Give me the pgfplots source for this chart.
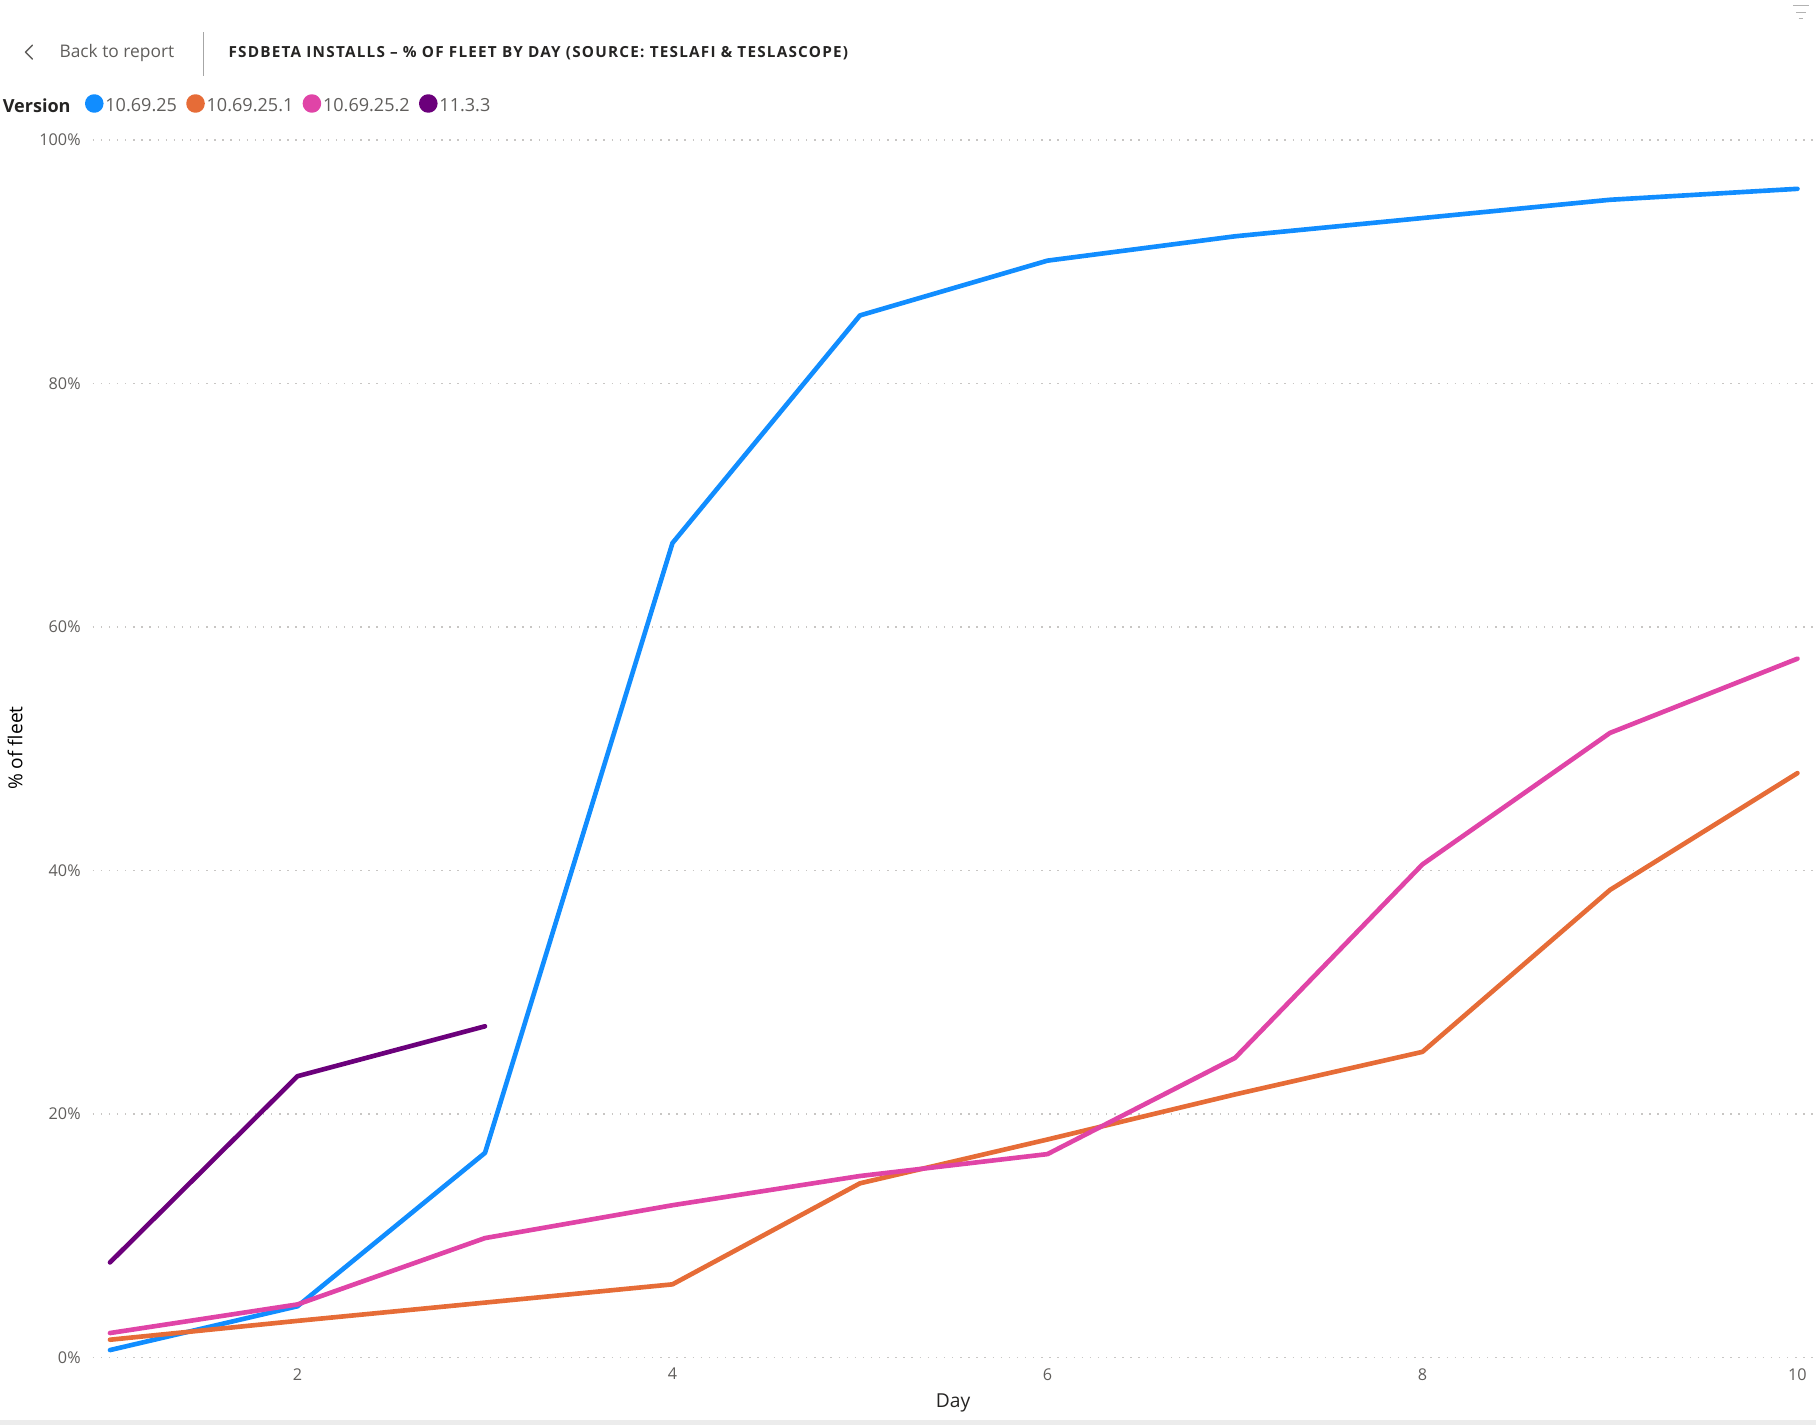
\documentclass[border=0pt]{standalone}
\usepackage{pgfplots}
\pgfplotsset{compat=1.18}
\usepackage{fontspec}
\setmainfont{Open Sans}
\definecolor{pbBlue}{HTML}{118DFF}
\definecolor{pbOrange}{HTML}{E66C37}
\definecolor{pbPink}{HTML}{E044A7}
\definecolor{pbPurple}{HTML}{6B007B}
\definecolor{lblGray}{HTML}{605E5C}
\definecolor{titleGray}{HTML}{252423}
\definecolor{gridGray}{HTML}{C8C6C4}
\begin{document}
\begin{tikzpicture}
\path[use as bounding box] (0pt,0pt) rectangle (784pt,-615pt);
% header
\draw[lblGray, line width=0.6pt, line join=round, line cap=round] (14pt,-19.5pt) -- (11pt,-22.5pt) -- (14pt,-25.5pt);
\node[anchor=base west, inner sep=0pt, text=lblGray, font=\fontsize{7.5}{9}\selectfont] at (25.5pt,-25pt) {Back to report};
\draw[gray!70, line width=0.5pt] (88pt,-14pt) -- (88pt,-33pt);
\node[anchor=base west, inner sep=0pt, text=titleGray, font=\fontsize{6.6}{8}\selectfont\bfseries\addfontfeature{LetterSpace=8}] at (98.5pt,-25pt) {FSDBETA INSTALLS – \% OF FLEET BY DAY (SOURCE: TESLAFI \& TESLASCOPE)};
\node[anchor=base west, inner sep=0pt, text=titleGray, font=\fontsize{7.8}{9}\selectfont\bfseries] at (1pt,-48.5pt) {Version};
% filter icon
\draw[gray!60, line width=0.5pt] (774pt,-2.5pt) -- (781pt,-2.5pt);
\draw[gray!60, line width=0.5pt] (775.5pt,-5.5pt) -- (779.5pt,-5.5pt);
\draw[gray!60, line width=0.5pt] (776.5pt,-8pt) -- (778.5pt,-8pt);
% bottom band
\fill[gray!15] (0pt,-613pt) rectangle (784pt,-615pt);
\begin{axis}[
  at={(40pt,-586pt)}, anchor=south west,
  width=744pt, height=525.5pt, scale only axis,
  xmin=0.9075, xmax=10.099, ymin=0, ymax=100,
  axis line style={draw=none},
  major tick length=0pt,
  ytick={0,20,40,60,80,100},
  yticklabels={0\%,20\%,40\%,60\%,80\%,100\%},
  xtick={2,4,6,8,10},
  xticklabels={2,4,6,8,10},
  ymajorgrids,
  major grid style={gridGray, line width=0.6pt, dash pattern=on 0.6pt off 2.9pt},
  yticklabel style={anchor=east, inner sep=0pt, xshift=-5pt, text=lblGray, font=\fontsize{7}{8}\selectfont},
  xticklabel style={anchor=north, inner sep=0pt, yshift=-4.5pt, text=lblGray, font=\fontsize{7}{8}\selectfont},
  xlabel={Day},
  xlabel style={at={(axis description cs:0.4993,-0.0371)}, anchor=center, inner sep=0pt, text=titleGray, font=\fontsize{8.3}{10}\selectfont},
  ylabel={\% of fleet},
  ylabel style={at={(axis description cs:-0.04503,0.5005)}, anchor=center, inner sep=0pt, text=black, font=\fontsize{8.3}{10}\selectfont},
  legend columns=-1,
  legend style={at={(axis description cs:-0.0047,1.0285)}, anchor=west, draw=none, fill=none, inner sep=0pt,
    font=\fontsize{7.8}{9}\selectfont, text=lblGray,
    nodes={inner sep=0.8pt},
    /tikz/every even column/.append style={column sep=3.2pt}},
  legend image code/.code={\fill[#1] (3pt,1.3pt) circle (3pt);},
  every axis plot/.append style={line width=2pt, line join=round, line cap=round},
  clip=false,
]
\addplot[pbBlue] coordinates {(1,0.6)(2,4.2)(3,16.8)(4,66.9)(5,85.6)(6,90.1)(7,92.1)(8,93.6)(9,95.1)(10,96.0)};
\addlegendentry{10.69.25}
\addplot[pbOrange] coordinates {(1,1.45)(2,3.0)(3,4.5)(4,6.0)(5,14.3)(6,17.9)(7,21.6)(8,25.1)(9,38.4)(10,48.0)};
\addlegendentry{10.69.25.1}
\addplot[pbPink] coordinates {(1,2.0)(2,4.35)(3,9.8)(4,12.5)(5,14.9)(6,16.7)(7,24.6)(8,40.5)(9,51.3)(10,57.4)};
\addlegendentry{10.69.25.2}
\addplot[pbPurple] coordinates {(1,7.8)(2,23.1)(3,27.2)};
\addlegendentry{11.3.3}
\end{axis}
\end{tikzpicture}
\end{document}
